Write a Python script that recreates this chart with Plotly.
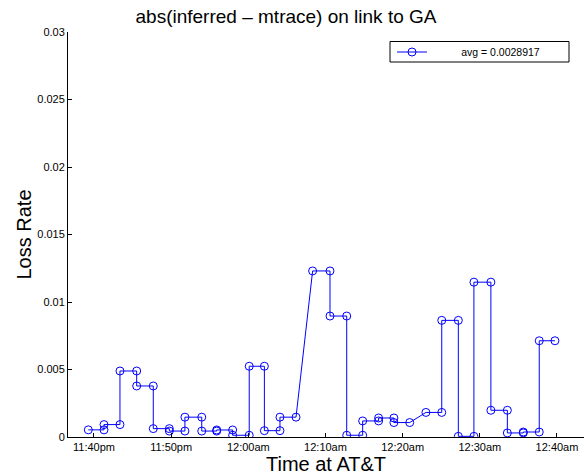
import plotly.graph_objects as go

# sample times (hh:mm:ss), evening of day 1 then past midnight on day 2
times = ["23:39:16", "23:41:18", "23:41:18", "23:43:22", "23:43:22", "23:45:32",
         "23:45:32", "23:47:41", "23:47:41", "23:49:46", "23:49:46", "23:51:47",
         "23:51:47", "23:53:58", "23:53:58", "23:55:54", "23:55:54", "23:57:58",
         "23:57:58", "00:00:07", "00:00:07", "00:02:05", "00:02:05", "00:04:06",
         "00:04:06", "00:06:11", "00:08:20", "00:10:35", "00:10:35", "00:12:45",
         "00:12:45", "00:14:49", "00:14:49", "00:16:53", "00:16:53", "00:18:52",
         "00:18:52", "00:20:55", "00:23:01", "00:25:04", "00:25:04", "00:27:13",
         "00:27:13", "00:29:14", "00:29:14", "00:31:26", "00:31:26", "00:33:34",
         "00:33:34", "00:35:38", "00:35:38", "00:37:42", "00:37:42", "00:39:44"]

loss_diff = [0.00053, 0.00053, 0.00092, 0.00092, 0.00489, 0.00489,
             0.00378, 0.00378, 0.00062, 0.00062, 0.00044, 0.00044,
             0.00147, 0.00147, 0.00044, 0.00044, 0.00052, 0.00052,
             0.00013, 0.00013, 0.00524, 0.00524, 0.00047, 0.00047,
             0.00147, 0.00147, 0.01230, 0.01230, 0.00896, 0.00896,
             0.00013, 0.00013, 0.00119, 0.00119, 0.00141, 0.00141,
             0.00107, 0.00107, 0.00182, 0.00182, 0.00864, 0.00864,
             0.00005, 0.00005, 0.01147, 0.01147, 0.00198, 0.00198,
             0.00030, 0.00030, 0.00037, 0.00037, 0.00713, 0.00713]

legend_label = "avg = 0.0028917"

x_tick_times = ["23:40:00", "23:50:00", "00:00:00", "00:10:00", "00:20:00", "00:30:00", "00:40:00"]
x_tick_text = ["11:40pm", "11:50pm", "12:00am", "12:10am", "12:20am", "12:30am", "12:40am"]
x_range_times = ["23:36:38", "00:43:30"]

y_tick_vals = [0, 0.005, 0.01, 0.015, 0.02, 0.025, 0.03]
y_tick_text = ["0", "0.005", "0.01", "0.015", "0.02", "0.025", "0.03"]


def to_dt(t):
    day = "2000-01-01" if int(t[:2]) >= 12 else "2000-01-02"
    return day + " " + t


FONT = "Liberation Sans, Arial, sans-serif"
W, H = 584, 476
ML, MR, MT, MB = 68, 0, 32, 39
PW, PH = W - ML - MR, H - MT - MB


def px_x(x):
    return (x - ML) / PW


def px_y(y):
    return (H - MB - y) / PH


fig = go.Figure()
fig.add_trace(go.Scatter(
    x=[to_dt(t) for t in times], y=loss_diff,
    mode="lines+markers",
    name="\u00a0" * 10 + legend_label,
    line=dict(color="#0000ff", width=1),
    marker=dict(symbol="circle-open", size=8, color="#0000ff", line=dict(width=1)),
))

# legend frame
fig.add_shape(type="rect", xref="paper", yref="paper",
              x0=px_x(390), x1=px_x(569), y0=px_y(62), y1=px_y(41.5),
              line=dict(color="black", width=1), fillcolor="white", layer="above")

fig.update_layout(
    width=W, height=H,
    margin=dict(l=ML, r=MR, t=MT, b=MB),
    paper_bgcolor="white", plot_bgcolor="white",
    font=dict(family=FONT, size=11, color="black"),
    title=dict(text="abs(inferred \u2013 mtrace) on link to GA",
               font=dict(family=FONT, size=19, color="black"),
               x=286 / W, xanchor="center", xref="container",
               y=1 - 16 / H, yanchor="middle", yref="container"),
    showlegend=True,
    legend=dict(x=px_x(392), xanchor="left", y=px_y(52), yanchor="middle",
                borderwidth=0, bgcolor="rgba(0,0,0,0)",
                font=dict(family=FONT, size=10.5, color="black"),
                tracegroupgap=0),
    xaxis=dict(
        range=[to_dt(t) for t in x_range_times],
        tickvals=[to_dt(t) for t in x_tick_times], ticktext=x_tick_text,
        ticks="inside", ticklen=4, tickcolor="black", tickwidth=1,
        showline=True, linecolor="black", linewidth=1, mirror=False,
        showgrid=False, zeroline=False,
        tickfont=dict(family=FONT, size=11, color="black"),
        title=dict(text="Time at AT&T", font=dict(family=FONT, size=20, color="black"), standoff=4),
        automargin=False,
    ),
    yaxis=dict(
        range=[0, 0.03],
        tickvals=y_tick_vals, ticktext=y_tick_text,
        ticks="inside", ticklen=4, tickcolor="black", tickwidth=1,
        showline=True, linecolor="black", linewidth=1, mirror=False,
        showgrid=False, zeroline=False,
        tickfont=dict(family=FONT, size=11, color="black"),
        title=dict(text="Loss Rate", font=dict(family=FONT, size=20, color="black"), standoff=0),
        automargin=False,
    ),
)

fig.write_html("out.html", config={"displayModeBar": False},
               post_script="document.body.style.margin='0';document.body.style.overflow='hidden';")
